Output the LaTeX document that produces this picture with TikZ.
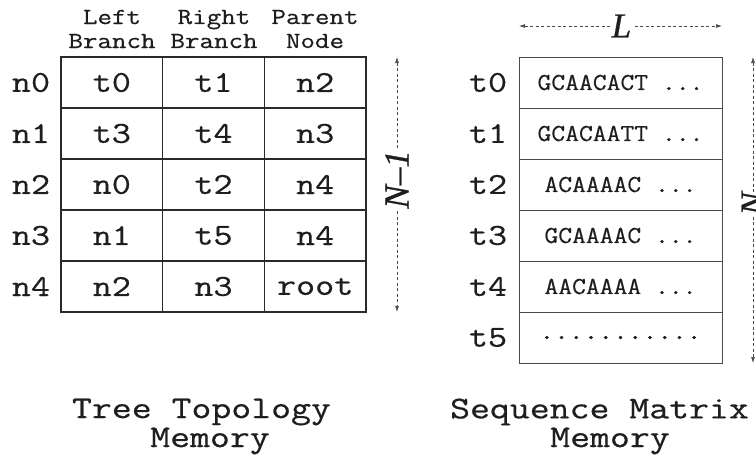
\documentclass[tikz,border=0pt]{standalone}
\usepackage{fontspec}
\setmainfont{Liberation Serif}
\newfontfamily\cour[FakeStretch=1.22,FakeBold=0.55]{Latin Modern Mono}
\newfontfamily\seqcour[FakeStretch=1.1,FakeBold=0.4]{Latin Modern Mono}
\newfontfamily\dotcour[FakeStretch=1.1,FakeBold=1.6]{Latin Modern Mono}
\newfontfamily\dimserif[FakeBold=0.8]{Liberation Serif}
\usetikzlibrary{arrows.meta}
\definecolor{ink}{HTML}{1E1E1E}
\definecolor{gridA}{HTML}{2A2A2A}
\definecolor{gridB}{HTML}{4A4A4A}
\newcommand\cellfont{\cour\fontsize{30.4}{30}\selectfont}
\newcommand\headfont{\cour\fontsize{23.1}{24}\selectfont}
\newcommand\capfont{\cour\fontsize{31.7}{30}\selectfont}
\newcommand\seqfont{\seqcour\fontsize{24.4}{24}\selectfont}
\newcommand\seqdots{\dotcour\fontsize{24.4}{24}\selectfont}
\newcommand\bigdots{\dotcour\fontsize{26}{24}\selectfont}
\newcommand\dimfont{\dimserif\itshape\fontsize{35}{35}\selectfont}
\begin{document}
\begin{tikzpicture}[x=1pt,y=-1pt,
  every node/.style={text=ink},
  cellA/.style={draw=gridA, line width=1.3pt, minimum width=101.67pt,
    minimum height=51pt, inner sep=0pt, outer sep=0pt, font=\cellfont},
  cellB/.style={draw=gridB, line width=0.9pt, minimum width=203pt,
    minimum height=51pt, inner sep=0pt, outer sep=0pt},
  rowlab/.style={inner sep=0pt, font=\cellfont},
  headlab/.style={inner sep=0pt, align=center, font=\headfont},
  caplab/.style={inner sep=0pt, font=\capfont},
  dimline/.style={draw=gridB, line width=0.7pt, dash pattern=on 3pt off 2.5pt,
    {Latex[length=6pt,width=4pt]}-{Latex[length=6pt,width=4pt]}},
  dimlab/.style={fill=white, inner sep=0.5pt, font=\dimfont}]
\useasboundingbox (0,0) rectangle (756,461);

% tree topology table: one row per internal node
\foreach \r/\a/\b/\c in {0/t0/t1/n2, 1/t3/t4/n3, 2/n0/t2/n4, 3/n1/t5/n4, 4/n2/n3/root}{
  \node[rowlab] (rn\r) at (31,{82.5+51*\r}) {n\r};
  \node[cellA] (lb\r) at (111.83,{82.5+51*\r}) {\a};
  \node[cellA] (rb\r) at (213.5,{82.5+51*\r}) {\b};
  \node[cellA] (pn\r) at (315.17,{82.5+51*\r}) {\c};
}
\node[headlab] (hL) at (112,29) {Left\\Branch};
\node[headlab] (hR) at (214,29) {Right\\Branch};
\node[headlab] (hP) at (315,29) {Parent\\Node};

% sequence matrix: one row per taxon
\foreach \r/\s in {0/GCAACACT, 1/GCACAATT, 2/ACAAAAC, 3/GCAAAAC, 4/AACAAAA}{
  \node[rowlab] (tl\r) at (488,{82.5+51*\r}) {t\r};
  \node[cellB] (sq\r) at (620.5,{82.5+51*\r}) {{\seqfont\s\ }{\seqdots...}};
}
\node[rowlab] (tl5) at (488,337.5) {t5};
\node[cellB] (sq5) at (620.5,337.5) {\bigdots...........};

% dimension arrows
\coordinate (nTop) at (397,57);
\coordinate (nBot) at (397,312);
\draw[dimline] (nTop) -- (nBot) node[dimlab, pos=0.48, rotate=90] {N\char"2013 1};
\coordinate (mTop) at (753,57);
\coordinate (mBot) at (753,363);
\draw[dimline] (mTop) -- (mBot) node[dimlab, pos=0.48, rotate=90] {N};
\coordinate (lLeft) at (519,26);
\coordinate (lRight) at (722,26);
\draw[dimline] (lLeft) -- (lRight) node[dimlab, midway, xshift=1pt] {L};

% captions
\node[caplab] (capT1) at (201.5,412) {Tree Topology};
\node[caplab] (capT2) at (210,441) {Memory};
\node[caplab] (capS1) at (599.5,412) {Sequence Matrix};
\node[caplab] (capS2) at (610,441) {Memory};
\end{tikzpicture}
\end{document}
